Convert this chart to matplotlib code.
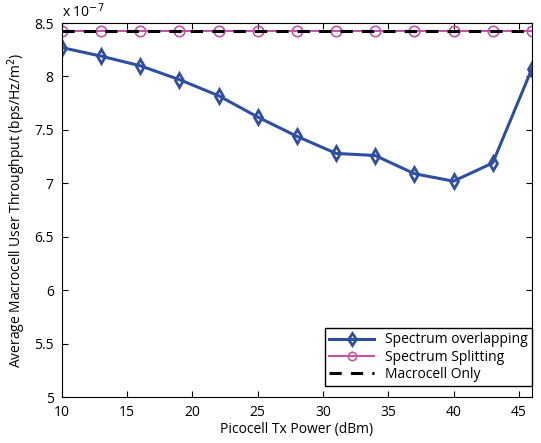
import numpy as np
import matplotlib.pyplot as plt

# picocell tx power (dBm) and throughput (x 1e-7 bps/Hz/m^2)
tx_power = [10, 13, 16, 19, 22, 25, 28, 31, 34, 37, 40, 43, 46]
overlap = [8.27, 8.19, 8.10, 7.97, 7.82, 7.62, 7.44, 7.28, 7.26, 7.09, 7.02, 7.19, 8.07]
splitting = [8.43] * 13
macro_only = [8.43] * 13

plt.rcParams['font.family'] = ['Open Sans', 'DejaVu Sans']

fig = plt.figure(figsize=(5.41, 4.43), dpi=100)
ax = fig.add_axes([0.1146, 0.1038, 0.8684, 0.8442])

x = np.array(tx_power)
ax.plot(x, np.array(overlap) * 1e-7, color='#2f4fa2', lw=2.2, marker='d', ms=7.5,
        mfc='none', mew=2, label='Spectrum overlapping')
ax.plot(x, np.array(splitting) * 1e-7, color='#c454a8', lw=1.5, marker='o', ms=7.5,
        mfc='none', mew=1.2, label='Spectrum Splitting')
ax.plot(x, np.array(macro_only) * 1e-7, 'k--', lw=2.2, dashes=(4, 3), label='Macrocell Only')

ax.set_xlim(10, 46)
ax.set_ylim(5e-7, 8.5e-7)
ax.set_xticks([10, 15, 20, 25, 30, 35, 40, 45])
yt = np.arange(5, 8.51, 0.5)
ax.set_yticks(yt * 1e-7)
ax.set_yticklabels(['%g' % v for v in yt])
ax.tick_params(direction='in', labelsize=10, top=True, right=True, length=4)
ax.tick_params(axis='x', pad=6)
ax.tick_params(axis='y', pad=6)
ax.text(0, 1.005, r'x 10$^{-7}$', transform=ax.transAxes, fontsize=10, va='bottom')

ax.set_xlabel('Picocell Tx Power (dBm)', fontsize=10, labelpad=1)
ax.set_ylabel(r'Average Macrocell User Throughput (bps/Hz/m$^2$)', fontsize=10, labelpad=4)

leg = ax.legend(loc='lower right', bbox_to_anchor=(1.0, 0.03), fontsize=10, fancybox=False,
                framealpha=1, edgecolor='k', borderpad=0.3, labelspacing=0.15,
                handlelength=3.2, borderaxespad=0, markerscale=0.8)
leg.get_frame().set_linewidth(1)

fig.savefig('out.png', dpi=100)
